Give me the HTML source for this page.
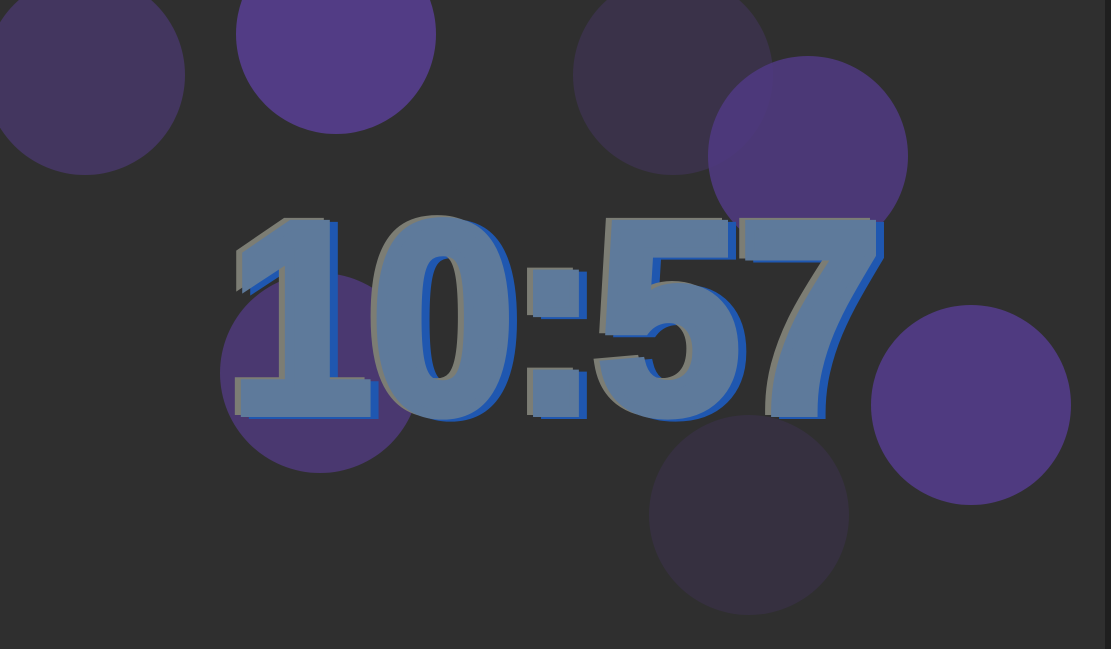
<!DOCTYPE html>
<html><head><meta charset="utf-8"><style>
html,body{margin:0;padding:0;}
body{width:1111px;height:649px;background:#2f2f2f;position:relative;overflow:hidden;font-family:"Liberation Sans",sans-serif;}
.c{position:absolute;width:200px;height:200px;border-radius:50%;}
#clock{position:absolute;left:0;top:0;width:1111px;height:649px;}
.t{position:absolute;left:555px;top:318px;font-weight:bold;font-size:272px;line-height:1;white-space:nowrap;transform:translate(-50%,-50%) scaleX(0.95);letter-spacing:-2px;-webkit-text-stroke:10px currentColor;}
#edge{position:absolute;right:0;top:0;width:6px;height:649px;background:#1f1f1f;}
</style></head><body>
<div class="c" style="left:-15px;top:-25px;background:#43365f"></div>
<div class="c" style="left:236px;top:-66px;background:#523c85"></div>
<div class="c" style="left:573px;top:-25px;background:#3a3249"></div>
<div class="c" style="left:708px;top:56px;background:rgba(80,58,130,0.85)"></div>
<div class="c" style="left:220px;top:273px;background:#4a3870"></div>
<div class="c" style="left:871px;top:305px;background:#4f3a80"></div>
<div class="c" style="left:649px;top:415px;background:#363040"></div>
<div id="clock">
<div class="t" style="color:#1f57b0;margin-left:8px;margin-top:2px">10:57</div>
<div class="t" style="color:#7c7d74;margin-left:-6px;margin-top:-2px">10:57</div>
<div class="t" style="color:#5e7a9b">10:57</div>
</div>
<div id="edge"></div>
</body></html>
